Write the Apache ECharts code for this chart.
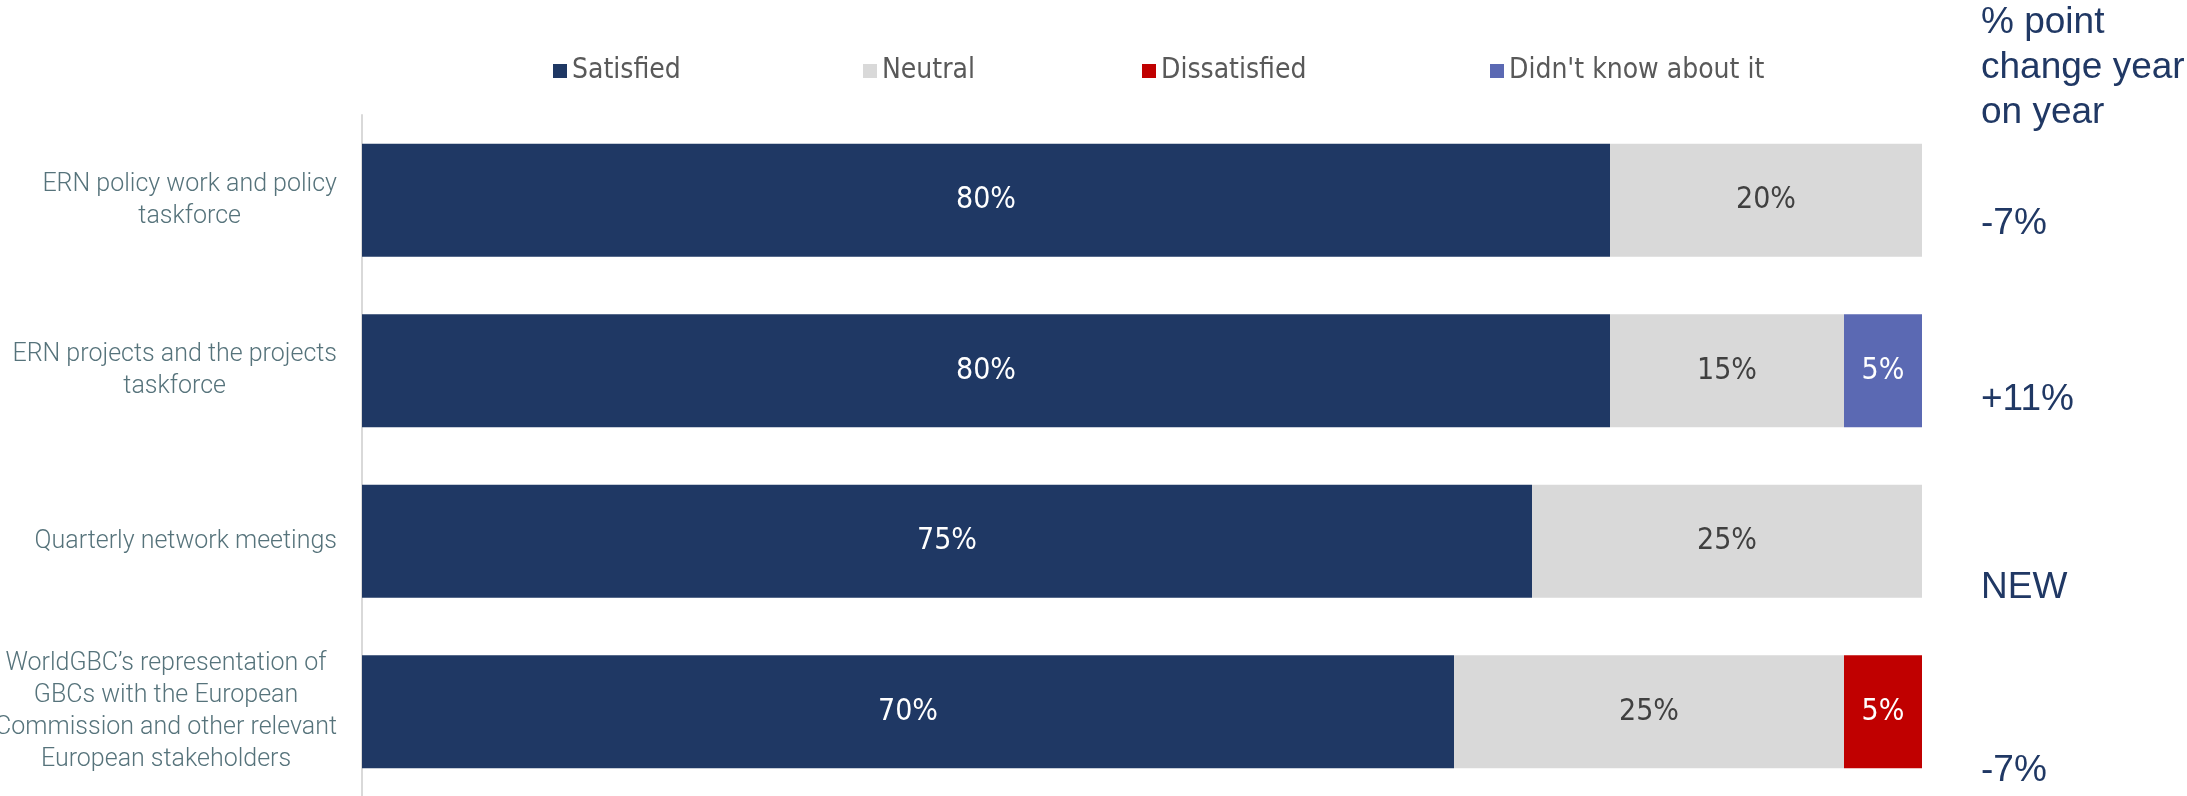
<!DOCTYPE html>
<html>
<head>
<meta charset="utf-8">
<script src="https://cdn.jsdelivr.net/npm/echarts@6/dist/echarts.min.js"></script>
<style>
html,body{margin:0;padding:0;background:#fff;}
#chart{width:2187px;height:796px;}
</style>
</head>
<body>
<div id="chart"></div>
<script>
const categories = [
  "ERN policy work and policy\ntaskforce",
  "ERN projects and the projects\ntaskforce",
  "Quarterly network meetings",
  "WorldGBC\u2019s representation of\nGBCs with the European\nCommission and other relevant\nEuropean stakeholders"
];
const seriesNames = ["Satisfied", "Neutral", "Dissatisfied", "Didn't know about it"];
const satisfied = [80, 80, 75, 70];
const neutral = [20, 15, 25, 25];
const dissatisfied = [0, 0, 0, 5];
const didntKnow = [0, 5, 0, 0];
const changeHeader = "% point\nchange year\non year";
const changeValues = ["-7%", "+11%", "NEW", "-7%"];

const colors = ["#1f3864", "#d9d9d9", "#c00000", "#5b69b3"];
const labelColors = ["#ffffff", "#404040", "#ffffff", "#ffffff"];
const narrow = "'Liberation Sans Narrow', 'DejaVu Sans Condensed', 'Roboto Condensed', sans-serif";
const values = [satisfied, neutral, dissatisfied, didntKnow];

const chart = echarts.init(document.getElementById('chart'), null, {renderer: 'canvas'});

const series = seriesNames.map((name, i) => ({
  name: name,
  type: 'bar',
  stack: 'total',
  barWidth: 113,
  data: values[i],
  itemStyle: {color: colors[i]},
  label: {
    show: true,
    position: 'inside',
    color: labelColors[i],
    fontFamily: narrow,
    fontSize: 30,
    formatter: p => p.value > 0 ? p.value + '%' : ''
  },
  emphasis: {disabled: true}
}));

// Right-side annotation positions (pixel centres of text lines)
const changeY = [226, 402, 590, 773];
const annFont = "37px 'Liberation Sans', Arial, sans-serif";
const graphics = [{
  type: 'text',
  left: 1981,
  top: 0,
  style: {
    text: changeHeader,
    font: annFont,
    fill: '#203864',
    lineHeight: 45
  }
}].concat(changeValues.map((t, i) => ({
  type: 'text',
  left: 1981,
  top: changeY[i] - 21,
  style: {
    text: t,
    font: annFont,
    fill: '#203864'
  }
})));

const legendLeft = [548, 858, 1137, 1485];
const legends = seriesNames.map((n, i) => ({
  left: legendLeft[i],
  top: 52,
  itemWidth: 14,
  itemHeight: 14,
  icon: 'rect',
  selectedMode: false,
  textStyle: {color: '#595959', fontFamily: narrow, fontSize: 28},
  data: [n]
}));

chart.setOption({
  animation: false,
  backgroundColor: '#ffffff',
  legend: legends,
  grid: {left: 362, right: 265, top: 115, height: 682, containLabel: false, outerBoundsMode: 'none'},
  xAxis: {
    type: 'value',
    min: 0,
    max: 100,
    show: false
  },
  yAxis: {
    type: 'category',
    inverse: true,
    data: categories,
    axisLine: {show: true, lineStyle: {color: '#d9d9d9', width: 2}},
    axisTick: {show: false},
    axisLabel: {
      margin: 25,
      align: 'right',
      formatter: v => v.split('\n').map(l => '{c|' + l + '}').join('\n'),
      rich: {
        c: {
          align: 'center',
          color: '#56737b',
          fontFamily: "Roboto, 'Liberation Sans', sans-serif",
          fontWeight: 300,
          fontSize: 25,
          lineHeight: 32
        }
      }
    }
  },
  series: series,
  graphic: graphics
});
</script>
</body>
</html>
